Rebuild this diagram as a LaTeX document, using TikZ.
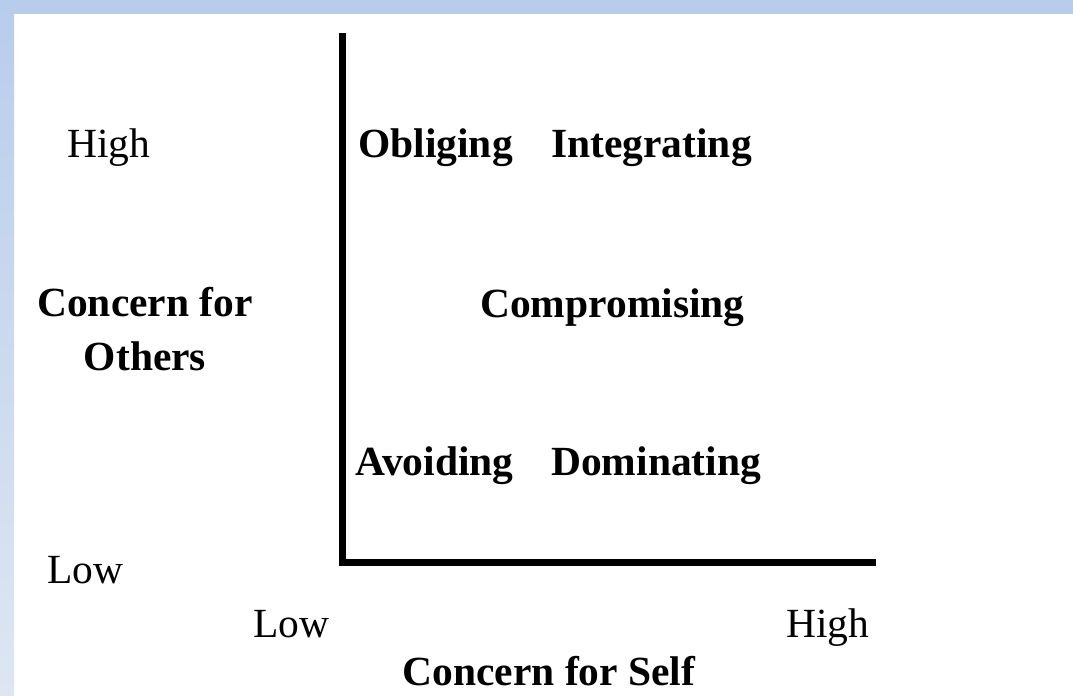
\documentclass[tikz,border=0pt]{standalone}
\usepackage{fontspec}
\setmainfont{Liberation Serif}
\usepackage{tikz}
\usetikzlibrary{positioning}
\definecolor{bandtop}{RGB}{184,205,236}
\definecolor{bandlow}{RGB}{222,230,242}
\tikzset{
axis/.style={%
    line width=0.16cm,
    line join=miter,
    draw=black
},
word/.style={%
    inner sep=0pt,
    anchor=base west,
    font=\fontsize{29.5}{36}\selectfont
},
mode/.style={%
    word,
    font=\fontsize{29.5}{36}\selectfont\bfseries
},
}

\begin{document}
\begin{tikzpicture}[x=0.025cm, y=-0.025cm]
	% frame and blue edge bands
	\useasboundingbox (0,0) rectangle (1073,696);
	\fill[white] (0,0) rectangle (1073,696);
	\shade[top color=bandtop, bottom color=bandlow] (0,0) rectangle (14,696);
	\fill[bandtop] (0,0) rectangle (1073,14);

	% axes
	\coordinate (ytop) at (342.5,33);
	\coordinate (xend) at (876,562.5);
	\draw[axis] (ytop) |- (xend);

	% scale words
	\node[word] at (67,157) (hiOthers) {High};
	\node[word] at (47,583) (loOthers) {Low};
	\node[word] at (253,637) (loSelf) {Low};
	\node[word] at (786,637) (hiSelf) {High};

	% axis titles
	\node[mode, anchor=base, align=center] at (145,370) (others) {Concern for\\[2pt]Others};
	\node[mode, anchor=base] at (549,685) (self) {Concern for Self};

	% the five styles
	\node[mode] at (358,157) (obl) {Obliging};
	\node[mode] at (551,157) (integ) {Integrating};
	\node[mode] at (480,317) (comp) {Compromising};
	\node[mode] at (355,475) (avoid) {Avoiding};
	\node[mode] at (551,475) (dom) {Dominating};
\end{tikzpicture}
\end{document}
